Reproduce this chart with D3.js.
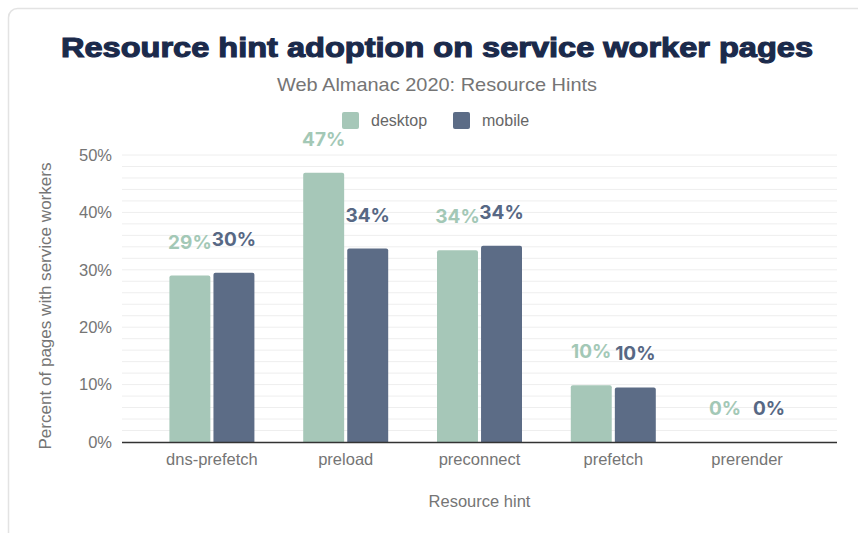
<!DOCTYPE html>
<html>
<head>
<meta charset="utf-8">
<script src="https://cdn.jsdelivr.net/npm/d3@7"></script>
<style>
  body { margin: 0; background: #fff; }
  svg { display: block; }
</style>
</head>
<body>
<div id="chart"></div>
<script>
const categories = ["dns-prefetch", "preload", "preconnect", "prefetch", "prerender"];
const seriesNames = ["desktop", "mobile"];
const desktopValues = [29.0, 46.9, 33.4, 9.9, 0];
const mobileValues = [29.5, 33.7, 34.2, 9.5, 0];
const desktopLabels = ["29%", "47%", "34%", "10%", "0%"];
const mobileLabels = ["30%", "34%", "34%", "10%", "0%"];
const yTicks = [0, 10, 20, 30, 40, 50];

const colors = { desktop: "#a6c7b8", mobile: "#5c6c86" };
const labelColors = { desktop: "#a3c8b6", mobile: "#576884" };

const W = 858, H = 533;
const plot = { left: 122, right: 837, top: 155, bottom: 442 };

const svg = d3.select("#chart").append("svg")
  .attr("width", W)
  .attr("height", H);

// card outline
svg.append("rect")
  .attr("x", 8.5).attr("y", 8.5)
  .attr("width", W + 20).attr("height", H + 20)
  .attr("rx", 9)
  .attr("fill", "#fff")
  .attr("stroke", "#e3e3e3")
  .attr("stroke-width", 1.5);

// title
svg.append("text")
  .attr("x", 437).attr("y", 57)
  .attr("text-anchor", "middle")
  .attr("font-family", "Liberation Sans, Arial, sans-serif")
  .attr("font-weight", 700)
  .attr("font-size", 27)
  .attr("fill", "#1b2a4b")
  .attr("stroke", "#1b2a4b")
  .attr("stroke-width", 1.1)
  .attr("textLength", 752)
  .attr("lengthAdjust", "spacingAndGlyphs")
  .text("Resource hint adoption on service worker pages");

svg.append("text")
  .attr("x", 437).attr("y", 91)
  .attr("text-anchor", "middle")
  .attr("font-family", "Liberation Sans, Arial, sans-serif")
  .attr("font-size", 18.5)
  .attr("fill", "#757575")
  .attr("textLength", 320)
  .attr("lengthAdjust", "spacingAndGlyphs")
  .text("Web Almanac 2020: Resource Hints");

// legend
const legendX = [342, 453];
seriesNames.forEach((s, i) => {
  svg.append("rect")
    .attr("x", legendX[i]).attr("y", 112)
    .attr("width", 17).attr("height", 17)
    .attr("rx", 2)
    .attr("fill", colors[s]);
  svg.append("text")
    .attr("x", legendX[i] + 29).attr("y", 126)
    .attr("font-family", "Liberation Sans, Arial, sans-serif")
    .attr("font-size", 16)
    .attr("fill", "#666")
    .text(s);
});

// scales
const x = d3.scaleBand()
  .domain(categories)
  .range([plot.left, plot.right])
  .paddingInner(0)
  .paddingOuter(0.172);

const y = d3.scaleLinear()
  .domain([0, 50])
  .range([plot.bottom, plot.top]);

// minor + major gridlines every 2%
svg.append("g")
  .selectAll("line")
  .data(d3.range(2, 51, 2))
  .join("line")
  .attr("x1", plot.left).attr("x2", plot.right)
  .attr("y1", d => y(d)).attr("y2", d => y(d))
  .attr("stroke", "#eeeeee")
  .attr("stroke-width", 1);

// y axis labels
const yAxis = svg.append("g")
  .attr("transform", `translate(${plot.left},0)`)
  .call(d3.axisLeft(y).tickValues(yTicks).tickFormat(d => d + "%").tickSize(0).tickPadding(10));
yAxis.select(".domain").remove();
yAxis.selectAll("text")
  .attr("font-family", "Liberation Sans, Arial, sans-serif")
  .attr("font-size", 16.5)
  .attr("fill", "#757575");

svg.append("text")
  .attr("transform", `translate(51,306) rotate(-90)`)
  .attr("text-anchor", "middle")
  .attr("font-family", "Liberation Sans, Arial, sans-serif")
  .attr("font-size", 17)
  .attr("fill", "#757575")
  .attr("textLength", 287)
  .attr("lengthAdjust", "spacingAndGlyphs")
  .text("Percent of pages with service workers");

// bars
const x1 = d3.scaleBand()
  .domain(seriesNames)
  .range([0, 85])
  .paddingInner(0.07);

const rows = categories.map((c, i) => ({
  cat: c,
  vals: [
    { s: "desktop", v: desktopValues[i], label: desktopLabels[i] },
    { s: "mobile", v: mobileValues[i], label: mobileLabels[i] }
  ]
}));

const groups = svg.append("g")
  .selectAll("g")
  .data(rows)
  .join("g")
  .attr("transform", d => `translate(${x(d.cat) + x.bandwidth() / 2 - 42.5},0)`);

groups.selectAll("path")
  .data(d => d.vals.filter(v => v.v > 0))
  .join("path")
  .attr("fill", d => colors[d.s])
  .attr("d", d => {
    const x0 = x1(d.s), w = x1.bandwidth();
    const y0 = y(d.v), yb = y(0), r = 2;
    return `M${x0},${yb}V${y0 + r}Q${x0},${y0} ${x0 + r},${y0}H${x0 + w - r}Q${x0 + w},${y0} ${x0 + w},${y0 + r}V${yb}Z`;
  });

groups.selectAll("text")
  .data(d => d.vals)
  .join("text")
  .attr("x", d => x1(d.s) + x1.bandwidth() / 2)
  .attr("y", d => y(d.v) - 27)
  .attr("text-anchor", "middle")
  .attr("font-family", "Inter, Open Sans, sans-serif")
  .attr("font-weight", 700)
  .attr("font-size", 19)
  .attr("fill", d => labelColors[d.s])
  .text(d => d.label);

// x axis
const xAxis = svg.append("g")
  .attr("transform", `translate(0,${plot.bottom})`)
  .call(d3.axisBottom(x).tickSize(0).tickPadding(11));
xAxis.select(".domain")
  .attr("d", `M${plot.left},0.5H${plot.right}`)
  .attr("stroke", "#333")
  .attr("stroke-width", 1.5);
xAxis.selectAll("text")
  .attr("font-family", "Liberation Sans, Arial, sans-serif")
  .attr("font-size", 16.5)
  .attr("fill", "#757575");

svg.append("text")
  .attr("x", (plot.left + plot.right) / 2).attr("y", 507)
  .attr("text-anchor", "middle")
  .attr("font-family", "Liberation Sans, Arial, sans-serif")
  .attr("font-size", 16.5)
  .attr("fill", "#757575")
  .text("Resource hint");
</script>
</body>
</html>
